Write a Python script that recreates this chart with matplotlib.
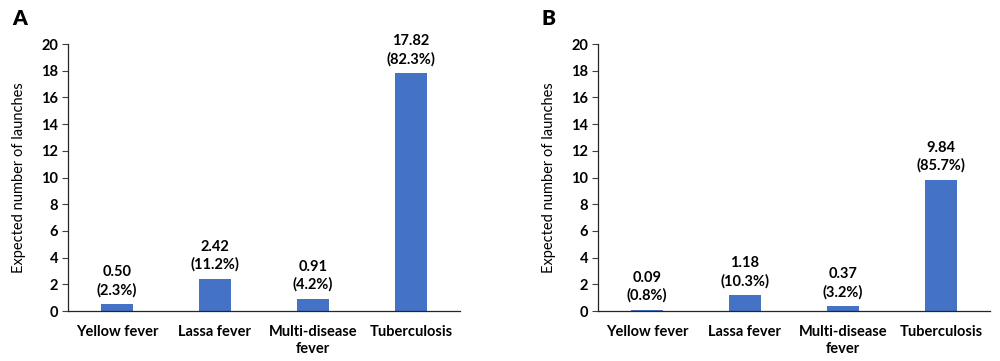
import matplotlib
matplotlib.use("Agg")
import matplotlib.pyplot as plt

categories = ["Yellow fever", "Lassa fever", "Multi-disease\nfever", "Tuberculosis"]
values_a = [0.50, 2.42, 0.91, 17.82]
pct_a = ["2.3%", "11.2%", "4.2%", "82.3%"]
values_b = [0.09, 1.18, 0.37, 9.84]
pct_b = ["0.8%", "10.3%", "3.2%", "85.7%"]
yticks = list(range(0, 21, 2))

plt.rcParams['font.family'] = ['Lato', 'DejaVu Sans']

fig = plt.figure(figsize=(10, 3.61), dpi=100)
axes_pos = [[0.068, 0.1385, 0.392, 0.7396], [0.598, 0.1385, 0.392, 0.7396]]
panels = [("A", values_a, pct_a), ("B", values_b, pct_b)]
color = "#4472C4"

for pos, (lab, vals, pcts) in zip(axes_pos, panels):
    ax = fig.add_axes(pos)
    x = list(range(len(categories)))
    ax.bar(x, vals, width=0.32, color=color)
    ax.set_xlim(-0.5, len(categories) - 0.5)
    ax.set_ylim(0, 20)
    ax.set_yticks(yticks)
    ax.set_yticklabels([str(t) for t in yticks], fontsize=10.5, fontweight='bold')
    ax.set_xticks(x)
    ax.set_xticklabels(categories, fontsize=10.5, fontweight='bold', linespacing=1.3)
    ax.tick_params(axis='x', length=0, pad=10)
    ax.tick_params(axis='y', length=4, width=0.8, color='#404040', pad=3)
    for s in ['top', 'right']:
        ax.spines[s].set_visible(False)
    ax.spines['left'].set_color('#262626')
    ax.spines['bottom'].set_color('#262626')
    ax.spines['left'].set_linewidth(0.9)
    ax.spines['bottom'].set_linewidth(0.9)
    ax.set_ylabel("Expected number of launches", fontsize=10.5, labelpad=11)
    for xi, v, p in zip(x, vals, pcts):
        ax.annotate(f"{v:.2f}\n({p})", (xi, v), xytext=(0, 5), textcoords='offset points',
                    ha='center', va='bottom', fontsize=10.5, fontweight='bold', linespacing=1.3)
    fig.text(pos[0] - 0.056, 0.948, lab, fontsize=15, fontweight='heavy', ha='left', va='center')

fig.savefig("out.png", dpi=100)
